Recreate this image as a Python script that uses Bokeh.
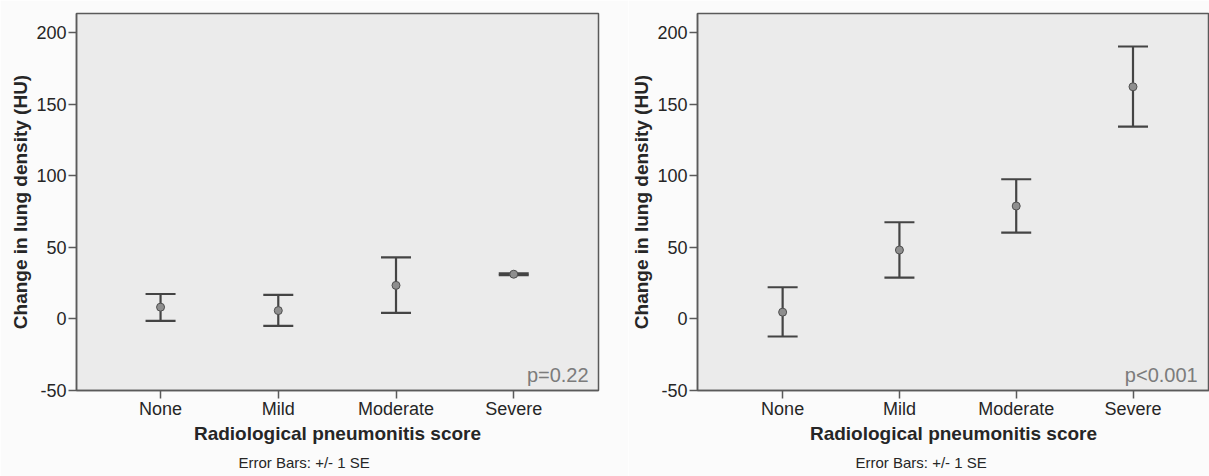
from bokeh.plotting import figure
from bokeh.layouts import row
from bokeh.models import (ColumnDataSource, Whisker, TeeHead, Range1d, FixedTicker, Label, Title)
from bokeh.embed import file_html
from bokeh.resources import INLINE

categories = ["None", "Mild", "Moderate", "Severe"]

left_mean = [8.2, 5.8, 23.4, 31.2]
left_upper = [17.4, 16.8, 43.0, 31.8]
left_lower = [-1.4, -4.9, 4.2, 30.6]
left_p = "p=0.22"

right_mean = [4.7, 48.1, 78.8, 162.1]
right_upper = [22.1, 67.5, 97.5, 190.2]
right_lower = [-12.3, 28.8, 60.2, 134.2]
right_p = "p<0.001"

y_ticks = [-50, 0, 50, 100, 150, 200]
y_label = "Change in lung density (HU)"
x_label = "Radiological pneumonitis score"
note = "Error Bars: +/- 1 SE"

FONT = "Liberation Sans"
BAR = "#444444"
FRAME = "#5a5a5a"
TEXT = "#262626"


def panel(means, uppers, lowers, ptext, width, xr, border_left, border_right, px, note_off):
    xs = list(range(1, len(categories) + 1))
    src = ColumnDataSource(dict(x=xs, mean=means, upper=uppers, lower=lowers))
    p = figure(width=width, height=476, output_backend="svg", toolbar_location=None,
               x_range=Range1d(*xr), y_range=Range1d(-50, 213.25),
               min_border_left=border_left, min_border_right=border_right,
               min_border_top=13, min_border_bottom=85)
    p.background_fill_color = "#ebebeb"
    p.border_fill_color = "#fbfbfb"
    p.outline_line_color = FRAME
    p.outline_line_width = 1.5
    p.grid.visible = False

    p.xaxis.ticker = FixedTicker(ticks=xs)
    p.xaxis.major_label_overrides = {i: c for i, c in zip(xs, categories)}
    p.yaxis.ticker = FixedTicker(ticks=y_ticks)
    p.yaxis.major_label_overrides = {t: str(t) for t in y_ticks}
    for ax in (p.xaxis, p.yaxis):
        ax.axis_line_color = FRAME
        ax.axis_line_width = 1.5
        ax.major_tick_line_color = FRAME
        ax.major_tick_line_width = 1.5
        ax.major_tick_out = 8
        ax.major_tick_in = 0
        ax.minor_tick_line_color = None
        ax.major_label_text_font = FONT
        ax.major_label_text_font_size = "18px"
        ax.major_label_text_color = TEXT
        ax.major_label_standoff = 2
        ax.axis_label_text_font = FONT
        ax.axis_label_text_font_size = "19px"
        ax.axis_label_text_font_style = "bold"
        ax.axis_label_text_color = TEXT
        ax.axis_label_standoff = 2
    p.xaxis.axis_label = x_label
    p.yaxis.axis_label = y_label
    p.xaxis.major_label_standoff = 0
    p.xaxis.axis_label_standoff = 1

    w = Whisker(base="x", upper="upper", lower="lower", source=src,
                line_color=BAR, line_width=2.2,
                upper_head=TeeHead(size=30, line_color=BAR, line_width=2.2),
                lower_head=TeeHead(size=30, line_color=BAR, line_width=2.2))
    p.add_layout(w)
    p.scatter("x", "mean", source=src, size=8, marker="circle",
              fill_color="#8e8e8e", line_color="#4f4f4f", line_width=1)

    p.add_layout(Label(x=px, y=-39, text=ptext, text_align="right",
                       text_baseline="alphabetic", text_font=FONT,
                       text_font_size="20px", text_color="#7c7c7c"))
    # footnote under the panel
    p.add_layout(Title(text=note, align="left", offset=note_off, standoff=11,
                       text_font=FONT, text_font_size="15px",
                       text_font_style="normal", text_color=TEXT), "below")
    return p


p1 = panel(left_mean, left_upper, left_lower, left_p, 628, (0.286, 4.72), 76, 30, 4.636, 162)
p2 = panel(right_mean, right_upper, right_lower, right_p, 581, (0.271, 4.655), 65, 0, 4.554, 158)

layout = row(p1, p2)
open("out.html", "w").write(file_html(layout, INLINE))
